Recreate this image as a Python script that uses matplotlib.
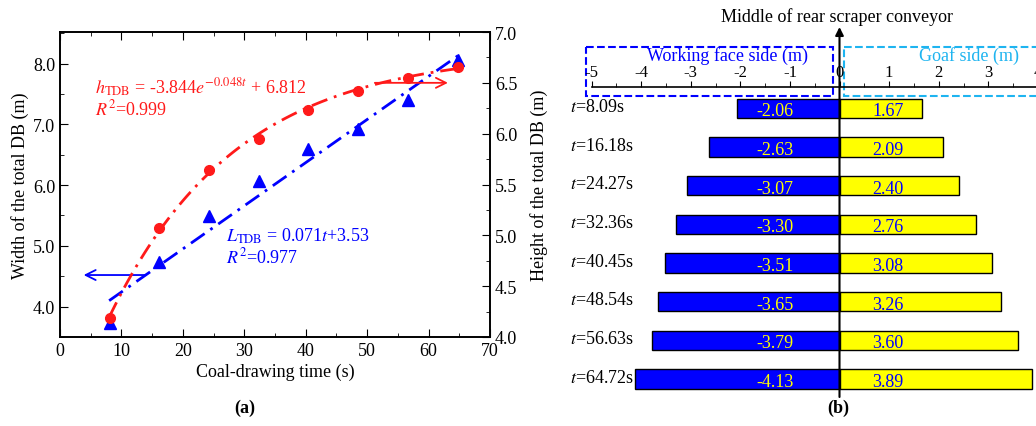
import numpy as np
import matplotlib
matplotlib.use('Agg')
import matplotlib.pyplot as plt
from matplotlib.patches import Rectangle
from matplotlib.ticker import MultipleLocator, FormatStrFormatter

plt.rcParams['font.family'] = ['Liberation Serif', 'DejaVu Serif']
plt.rcParams['mathtext.fontset'] = 'stix'
plt.rcParams['axes.unicode_minus'] = False

# data
times = [8.09, 16.18, 24.27, 32.36, 40.45, 48.54, 56.63, 64.72]
time_labels = ['8.09', '16.18', '24.27', '32.36', '40.45', '48.54', '56.63', '64.72']
width_db = [3.73, 4.74, 5.49, 6.07, 6.60, 6.92, 7.40, 8.06]
height_db = [4.19, 5.07, 5.64, 5.95, 6.23, 6.42, 6.55, 6.66]
working_side = [-2.06, -2.63, -3.07, -3.30, -3.51, -3.65, -3.79, -4.13]
goaf_side = [1.67, 2.09, 2.40, 2.76, 3.08, 3.26, 3.60, 3.89]

# fit coefficients printed on the chart
L_slope, L_icpt = 0.071, 3.53
h_a, h_b, h_c = -3.844, -0.048, 6.812

BLUE = '#0000ff'
RED = '#ff1a1a'
CYAN = '#1eb4f0'
YELLOW = '#ffff00'

fig = plt.figure(figsize=(10.36, 4.27), dpi=100)

# ---------------- panel (a) ----------------
ax = fig.add_axes([60/1036, 89/427, 430/1036, 305/427])
axr = ax.twinx()

ax.set_xlim(0, 70)
ax.set_ylim(3.5, 8.52)
axr.set_ylim(4.0, 7.0)

tfit = np.linspace(8, 65, 100)
ax.plot(tfit, L_slope*tfit + L_icpt, color=BLUE, lw=2, ls=(0, (6, 2.5, 1, 2.5)))
ax.plot(times, width_db, '^', color=BLUE, ms=8, ls='none')
axr.plot(tfit, h_a*np.exp(h_b*tfit) + h_c, color=RED, lw=2, ls=(0, (6, 2.5, 1, 2.5)))
axr.plot(times, height_db, 'o', color=RED, ms=7, ls='none')

ax.annotate('', xy=(3.4, 4.52), xytext=(14.3, 4.52),
            arrowprops=dict(arrowstyle='->', color=BLUE, lw=1.3, mutation_scale=18))
axr.annotate('', xy=(63.6, 6.5), xytext=(50.8, 6.5),
             arrowprops=dict(arrowstyle='->', color=RED, lw=1.3, mutation_scale=18))

ax.text(5.7, 7.51, r'$h_{\rm TDB}$ = -3.844$e^{-0.048t}$ + 6.812', color=RED,
        fontsize=13, va='baseline')
ax.text(5.7, 7.17, r'$R^2$=0.999', color=RED, fontsize=13, va='baseline')
ax.text(27.1, 5.08, r'$L_{\rm TDB}$ = 0.071$t$+3.53', color=BLUE,
        fontsize=13, va='baseline')
ax.text(27.1, 4.72, r'$R^2$=0.977', color=BLUE, fontsize=13, va='baseline')

ax.xaxis.set_major_locator(MultipleLocator(10))
ax.xaxis.set_minor_locator(MultipleLocator(5))
ax.yaxis.set_major_locator(MultipleLocator(1))
ax.yaxis.set_minor_locator(MultipleLocator(0.5))
ax.yaxis.set_major_formatter(FormatStrFormatter('%.1f'))
axr.yaxis.set_major_locator(MultipleLocator(0.5))
axr.yaxis.set_minor_locator(MultipleLocator(0.25))
axr.yaxis.set_major_formatter(FormatStrFormatter('%.1f'))
ax.tick_params(which='both', direction='in', top=True, right=False, labelsize=13)
ax.tick_params(which='major', length=6)
ax.tick_params(which='minor', length=3)
axr.tick_params(which='both', direction='in', labelsize=13)
axr.tick_params(which='major', length=6)
axr.tick_params(which='minor', length=3)
for a in (ax, axr):
    for s in a.spines.values():
        s.set_linewidth(1.2)

ax.set_xlabel('Coal-drawing time (s)', fontsize=13, labelpad=3)
ax.set_ylabel('Width of the total DB (m)', fontsize=13, labelpad=3)
axr.set_ylabel('Height of the total DB (m)', fontsize=13, labelpad=9)

fig.text(245/1036, 1 - 408/427, '(a)', fontsize=13, fontweight='bold',
         ha='center', va='center')

# ---------------- panel (b) ----------------
px_unit = 49.6
x0_px = 839.5
row_px = 38.64
row0_px = 109.5
top_px, bot_px = 88.3, 398
xl, xr = -5.0, 4.5
yt = (top_px - row0_px) / row_px
yb = (bot_px - row0_px) / row_px
bx = fig.add_axes([(x0_px + xl*px_unit)/1036, (427 - bot_px)/427,
                   (xr - xl)*px_unit/1036, (bot_px - top_px)/427])
bx.set_xlim(xl, xr)
bx.set_ylim(yb, yt)

rows = np.arange(len(times))
bx.barh(rows, working_side, height=0.5, color=BLUE, edgecolor='black', lw=1)
bx.barh(rows, goaf_side, height=0.5, color=YELLOW, edgecolor='black', lw=1)

for r, w, g, lab in zip(rows, working_side, goaf_side, time_labels):
    bx.text(-1.3, r + 0.06, '%.2f' % w, color=YELLOW, fontsize=13,
            ha='center', va='center')
    bx.text(0.98, r + 0.06, '%.2f' % g, color=BLUE, fontsize=13,
            ha='center', va='center')
    bx.text(-5.43, r - 0.05, '$t$=' + lab + 's', fontsize=13,
            ha='left', va='center')

# middle line with arrow
bx.annotate('', xy=(0, (28 - row0_px)/row_px), xytext=(0, yb),
            arrowprops=dict(arrowstyle='-|>', color='black', lw=1.5,
                            mutation_scale=12, shrinkA=0, shrinkB=0),
            annotation_clip=False)
bx.text(-0.05, (17 - row0_px)/row_px, 'Middle of rear scraper conveyor',
        fontsize=13, ha='center', va='center')

# dashed boxes
by0 = (48.3 - row0_px)/row_px
by1 = (96.7 - row0_px)/row_px
bx.add_patch(Rectangle((-5.11, by0), -0.125 + 5.11, by1 - by0, fill=False,
                       ec=BLUE, ls='--', lw=1.5, clip_on=False))
bx.add_patch(Rectangle((0.09, by0), 4.5, by1 - by0, fill=False,
                       ec=CYAN, ls='--', lw=1.5, clip_on=False))
bx.text(-2.25, (56 - row0_px)/row_px, 'Working face side (m)', color=BLUE,
        fontsize=13, ha='center', va='center')
bx.text(2.61, (56 - row0_px)/row_px, 'Goaf side (m)', color=CYAN,
        fontsize=13, ha='center', va='center')

bx.xaxis.tick_top()
bx.xaxis.set_major_locator(MultipleLocator(1))
bx.xaxis.set_minor_locator(MultipleLocator(0.5))
bx.tick_params(axis='x', which='both', direction='out', labelsize=12, pad=1)
bx.tick_params(axis='x', which='major', length=4)
bx.tick_params(axis='x', which='minor', length=3)
bx.set_yticks([])
for k in ('left', 'right', 'bottom'):
    bx.spines[k].set_visible(False)
bx.spines['top'].set_linewidth(1.2)

fig.text(838/1036, 1 - 408/427, '(b)', fontsize=13, fontweight='bold',
         ha='center', va='center')

fig.savefig('out.png', dpi=100)
